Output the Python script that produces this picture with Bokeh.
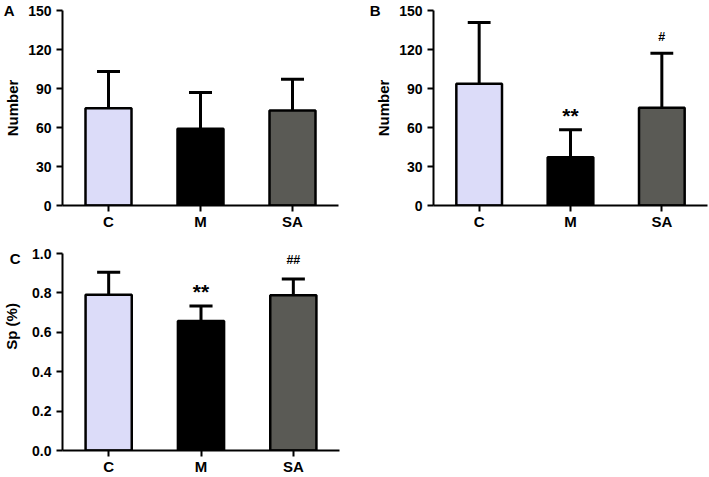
from bokeh.plotting import figure
from bokeh.models import (Range1d, FactorRange, FixedTicker, LinearAxis, ColumnDataSource,
                          PrintfTickFormatter)
from bokeh.transform import dodge
from bokeh.layouts import column, row
from bokeh.embed import file_html
from bokeh.resources import INLINE
from bokeh.core.properties import value

# ---- data ----
groups = ["C", "M", "SA"]
bar_colors = ["#dcdcf9", "#000000", "#5a5a55"]

a_mean = [74.8, 59.0, 73.1]
a_sd = [28.3, 27.9, 24.1]

b_mean = [93.6, 37.2, 75.1]
b_sd = [47.2, 21.0, 42.1]

c_mean = [0.790, 0.657, 0.788]
c_sd = [0.115, 0.076, 0.082]

b_star = ["", "**", ""]
b_hash = ["", "", "#"]
c_star = ["", "**", ""]
c_hash = ["", "", "##"]

num_ticks = [0, 30, 60, 90, 120, 150]
pct_ticks = [0.0, 0.2, 0.4, 0.6, 0.8, 1.0]

FONT = "Liberation Sans"


def text_axis(p, tick, text, standoff, orientation="horizontal", size="15px"):
    """An extra left axis that only carries one text label (panel letter / side title)."""
    ax = LinearAxis(ticker=FixedTicker(ticks=[tick]), major_label_overrides={tick: text})
    ax.axis_line_color = None
    ax.major_tick_line_color = None
    ax.minor_tick_line_color = None
    ax.major_tick_out = 0
    ax.major_tick_in = 0
    ax.major_label_standoff = standoff
    ax.major_label_orientation = orientation
    ax.major_label_text_font = FONT
    ax.major_label_text_font_style = "bold"
    ax.major_label_text_font_size = size
    ax.major_label_text_color = "black"
    p.add_layout(ax, "left")
    return ax


def panel(means, sds, y_end, y_ticks, y_fmt, width, height, bl, br, bt, bb,
          y_label=None, stars=None, hashes=None, star_dy=-14, hash_dy=-16):
    p = figure(width=width, height=height, x_range=FactorRange(*groups, range_padding=0),
               y_range=Range1d(0, y_end), output_backend="svg", toolbar_location=None,
               min_border_left=bl, min_border_right=br, min_border_top=bt, min_border_bottom=bb)
    p.outline_line_color = None
    p.grid.visible = False
    p.background_fill_color = "white"
    p.border_fill_color = "white"

    err = [m + s for m, s in zip(means, sds)]
    src = ColumnDataSource(dict(g=groups, top=means, err=err, color=bar_colors))

    # error stems and caps (drawn first so the bars cover the lower part)
    p.segment(x0="g", y0="top", x1="g", y1="err", source=src, line_color="black", line_width=3)
    p.segment(x0=dodge("g", -0.125, range=p.x_range), y0="err",
              x1=dodge("g", 0.125, range=p.x_range), y1="err",
              source=src, line_color="black", line_width=3)
    p.vbar(x="g", top="top", bottom=0, width=0.5, source=src, fill_color="color",
           line_color="black", line_width=2.5)

    if stars is not None:
        s2 = ColumnDataSource(dict(g=groups, err=err, t=stars))
        p.text(x="g", y="err", text="t", source=s2, text_align="center",
               text_baseline="alphabetic", text_font=value(FONT), text_font_style="bold",
               text_font_size="21px", y_offset=star_dy, text_color="black")
    if hashes is not None:
        s3 = ColumnDataSource(dict(g=groups, err=err, t=hashes))
        p.text(x="g", y="err", text="t", source=s3, text_align="center",
               text_baseline="alphabetic", text_font=value(FONT), text_font_style="bold",
               text_font_size="12.5px", y_offset=hash_dy, text_color="black")

    xa = p.xaxis[0]
    ya = p.yaxis[0]
    for ax in (xa, ya):
        ax.axis_line_width = 2
        ax.axis_line_color = "black"
        ax.major_tick_line_width = 2
        ax.major_tick_line_color = "black"
        ax.major_tick_out = 6
        ax.major_tick_in = 0
        ax.minor_tick_line_color = None
        ax.major_label_text_font = FONT
        ax.major_label_text_font_style = "bold"
        ax.major_label_text_color = "black"
    xa.major_label_text_font_size = "15px"
    xa.major_label_standoff = 1
    ya.ticker = FixedTicker(ticks=y_ticks)
    ya.formatter = PrintfTickFormatter(format=y_fmt)
    ya.major_label_text_font_size = "14px"
    ya.major_label_standoff = 5
    if y_label is not None:
        ya.axis_label = y_label
        ya.axis_label_text_font = FONT
        ya.axis_label_text_font_style = "bold"
        ya.axis_label_text_font_size = "15px"
        ya.axis_label_text_color = "black"
        ya.axis_label_standoff = 4
    return p


# frames: A 56..338 x 10..205 ; B 422..707 ; C 57..339 x 253..450
pA = panel(a_mean, a_sd, 150, num_ticks, "%d", 366, 232, 56, 28, 10, 27, y_label="Number")
text_axis(pA, 150, "A", -13)

pB = panel(b_mean, b_sd, 150, num_ticks, "%d", 343, 232, 56, 2, 10, 27, y_label="Number",
           stars=b_star, hashes=b_hash, star_dy=-14, hash_dy=-16)
text_axis(pB, 150, "B", -8)

pC = panel(c_mean, c_sd, 1.0, pct_ticks, "%.1f", 360, 245, 57, 21, 21, 27,
           stars=c_star, hashes=c_hash, star_dy=-15, hash_dy=-19)
text_axis(pC, 0.975, "C", 9)
text_axis(pC, 0.63, "Sp (%)", -14, orientation="vertical")

layout = column(row(pA, pB, spacing=0), row(pC, spacing=0), spacing=0)

open("out.html", "w").write(file_html(layout, INLINE))
